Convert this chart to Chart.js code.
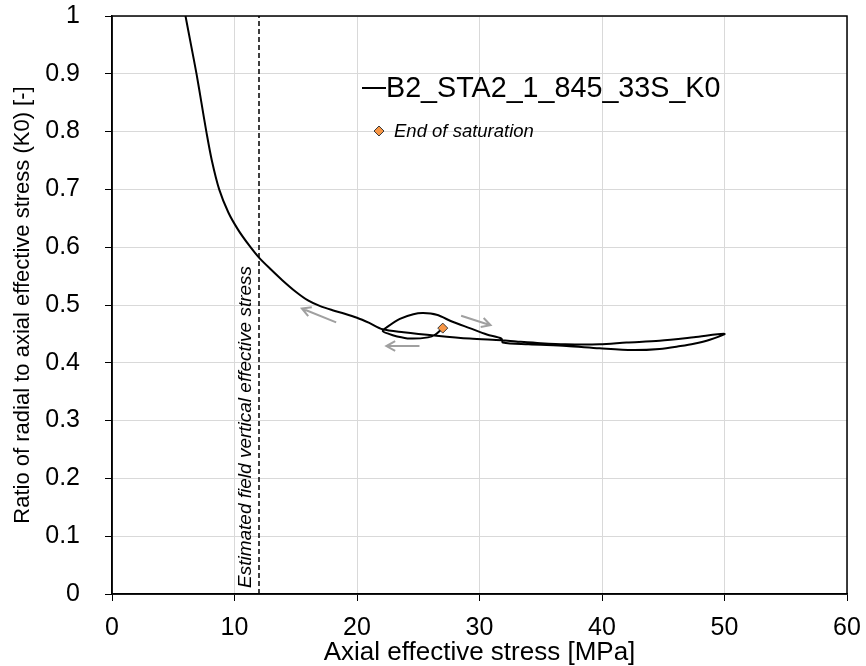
<!DOCTYPE html>
<html lang="en">
<head>
    <meta charset="UTF-8">
    <title>K0 ratio vs axial effective stress</title>
    <script src="https://cdn.jsdelivr.net/npm/chart.js"></script>
    <style>
        html, body { margin: 0; padding: 0; background: #fff; overflow: hidden; }
        canvas { display: block; }
    </style>
</head>
<body>
    <canvas id="k0Chart" width="866" height="666"></canvas>

    <script>
        // Test path: saturation hook, loading to 50 MPa, unloading back to ~6 MPa
        const stress = [27.0, 26.4, 25.8, 24.3, 23.2, 22.6, 22.1,
            22.4, 23.5, 24.6, 25.4, 26.5, 27.8, 29.2, 30.6, 31.8, 31.9,
            34.0, 37.1, 39.8, 42.5, 44.7, 46.4, 47.5, 48.8, 50.0,
            47.5, 44.7, 42.0, 39.8, 37.0, 35.0, 33.0, 31.8,
            29.2, 26.5, 23.8, 22.1,
            21.0, 20.0, 19.0, 18.0, 17.0, 16.0, 15.0, 13.9, 13.0, 12.0, 11.2, 10.3, 9.5,
            8.75, 8.15, 7.7, 7.3, 6.9, 6.45, 6.0];
        const k0 = [0.460, 0.449, 0.444, 0.442, 0.446, 0.450, 0.455,
            0.461, 0.476, 0.484, 0.486, 0.483, 0.471, 0.460, 0.449, 0.442, 0.435,
            0.432, 0.429, 0.425, 0.422, 0.424, 0.429, 0.433, 0.440, 0.450,
            0.444, 0.438, 0.435, 0.432, 0.432, 0.434, 0.437, 0.439,
            0.442, 0.447, 0.453, 0.458,
            0.469, 0.478, 0.485, 0.491, 0.498, 0.508, 0.523, 0.543, 0.561, 0.582, 0.603, 0.630, 0.660,
            0.700, 0.750, 0.800, 0.850, 0.900, 0.950, 1.000];

        const saturationStress = [27.0];
        const saturationK0 = [0.460];

        const fieldStress = 12;
        const fieldLabel = 'Estimated field vertical effective stress';

        // direction arrows, [x tail, y tail, x head, y head] in data units
        const arrows = [
            [18.3, 0.470, 15.5, 0.494],
            [25.1, 0.429, 22.4, 0.429],
            [28.5, 0.4815, 30.9, 0.465]
        ];

        const xTicks = [0, 10, 20, 30, 40, 50, 60];
        const yTicks = [0, 0.1, 0.2, 0.3, 0.4, 0.5, 0.6, 0.7, 0.8, 0.9, 1];

        const FONT = "'Liberation Sans', Arial, sans-serif";

        const overlay = {
            id: 'overlay',
            afterDatasetsDraw(chart) {
                const {ctx, chartArea: a, scales: {x, y}} = chart;
                ctx.save();

                // direction arrows
                ctx.strokeStyle = '#a0a0a0';
                ctx.lineWidth = 2;
                arrows.forEach(([x1, y1, x2, y2]) => {
                    const px1 = x.getPixelForValue(x1), py1 = y.getPixelForValue(y1);
                    const px2 = x.getPixelForValue(x2), py2 = y.getPixelForValue(y2);
                    const ang = Math.atan2(py2 - py1, px2 - px1);
                    ctx.beginPath();
                    ctx.moveTo(px1, py1);
                    ctx.lineTo(px2, py2);
                    ctx.moveTo(px2 - 10 * Math.cos(ang - 0.5), py2 - 10 * Math.sin(ang - 0.5));
                    ctx.lineTo(px2, py2);
                    ctx.lineTo(px2 - 10 * Math.cos(ang + 0.5), py2 - 10 * Math.sin(ang + 0.5));
                    ctx.stroke();
                });

                // rotated label beside the dashed line
                ctx.fillStyle = '#000';
                ctx.font = 'italic 19px ' + FONT;
                ctx.translate(x.getPixelForValue(fieldStress) - 8, a.bottom - 6);
                ctx.rotate(-Math.PI / 2);
                ctx.textAlign = 'left';
                ctx.textBaseline = 'alphabetic';
                ctx.fillText(fieldLabel, 0, 0);
                ctx.restore();

                // legend
                ctx.save();
                const ds = chart.data.datasets;
                ctx.strokeStyle = '#000';
                ctx.lineWidth = 2;
                ctx.beginPath();
                ctx.moveTo(362, 88);
                ctx.lineTo(386, 88);
                ctx.stroke();
                ctx.fillStyle = '#000';
                ctx.font = '28.7px ' + FONT;
                ctx.textBaseline = 'middle';
                ctx.fillText(ds[0].label, 386, 89);

                ctx.fillStyle = '#f79646';
                ctx.strokeStyle = '#3a3a3a';
                ctx.lineWidth = 1;
                ctx.beginPath();
                ctx.moveTo(379, 126);
                ctx.lineTo(384, 131);
                ctx.lineTo(379, 136);
                ctx.lineTo(374, 131);
                ctx.closePath();
                ctx.fill();
                ctx.stroke();
                ctx.fillStyle = '#000';
                ctx.font = 'italic 18.5px ' + FONT;
                ctx.fillText(ds[1].label, 394, 132);

                // frame
                ctx.strokeStyle = '#000';
                ctx.lineWidth = 1.5;
                ctx.strokeRect(a.left, a.top, a.right - a.left, a.bottom - a.top);
                ctx.restore();
            }
        };

        const ctx = document.getElementById('k0Chart').getContext('2d');
        new Chart(ctx, {
            type: 'scatter',
            data: {
                datasets: [{
                    label: 'B2_STA2_1_845_33S_K0',
                    data: stress.map((s, i) => ({x: s, y: k0[i]})),
                    showLine: true,
                    borderColor: '#000',
                    borderWidth: 2,
                    pointRadius: 0,
                    tension: 0.3,
                    order: 2
                }, {
                    label: 'End of saturation',
                    data: saturationStress.map((s, i) => ({x: s, y: saturationK0[i]})),
                    pointStyle: 'rectRot',
                    pointRadius: 5,
                    backgroundColor: '#f79646',
                    borderColor: '#3a3a3a',
                    borderWidth: 1,
                    order: 1
                }, {
                    label: 'field',
                    data: [{x: fieldStress, y: yTicks[0]}, {x: fieldStress, y: yTicks[yTicks.length - 1]}],
                    showLine: true,
                    borderColor: '#000',
                    borderWidth: 1.5,
                    borderDash: [5, 3],
                    pointRadius: 0,
                    order: 3
                }]
            },
            options: {
                responsive: false,
                animation: false,
                devicePixelRatio: 1,
                layout: { padding: { top: 16, right: 19, left: 0, bottom: 0 } },
                plugins: { legend: { display: false }, tooltip: { enabled: false } },
                scales: {
                    x: {
                        min: 0, max: 60,
                        afterBuildTicks: s => { s.ticks = xTicks.map(v => ({value: v})); },
                        afterFit: s => { s.height = 72; s.paddingLeft = 0; s.paddingRight = 0; },
                        ticks: { color: '#000', font: { family: FONT, size: 25 }, padding: 12, maxRotation: 0, callback: v => String(v) },
                        grid: { color: '#d9d9d9', tickColor: '#000', tickLength: 7, lineWidth: 1 },
                        border: { color: '#000', width: 1.5 },
                        title: { display: true, text: 'Axial effective stress [MPa]', color: '#000',
                                 font: { family: FONT, size: 26, lineHeight: 1 }, padding: { top: 0, bottom: 0 } }
                    },
                    y: {
                        min: 0, max: 1,
                        afterBuildTicks: s => { s.ticks = yTicks.map(v => ({value: v})); },
                        afterFit: s => { s.width = 112; s.paddingTop = 0; s.paddingBottom = 0; },
                        ticks: { color: '#000', font: { family: FONT, size: 25 }, padding: 25, callback: v => String(v) },
                        grid: { color: '#d9d9d9', tickColor: '#000', tickLength: 7, lineWidth: 1 },
                        border: { color: '#000', width: 1.5 },
                        title: { display: true, text: 'Ratio of radial to axial effective stress (K0) [-]', color: '#000',
                                 font: { family: FONT, size: 22, lineHeight: 1 }, padding: { top: 12, bottom: 0 } }
                    }
                }
            },
            plugins: [overlay]
        });
    </script>
</body>
</html>
